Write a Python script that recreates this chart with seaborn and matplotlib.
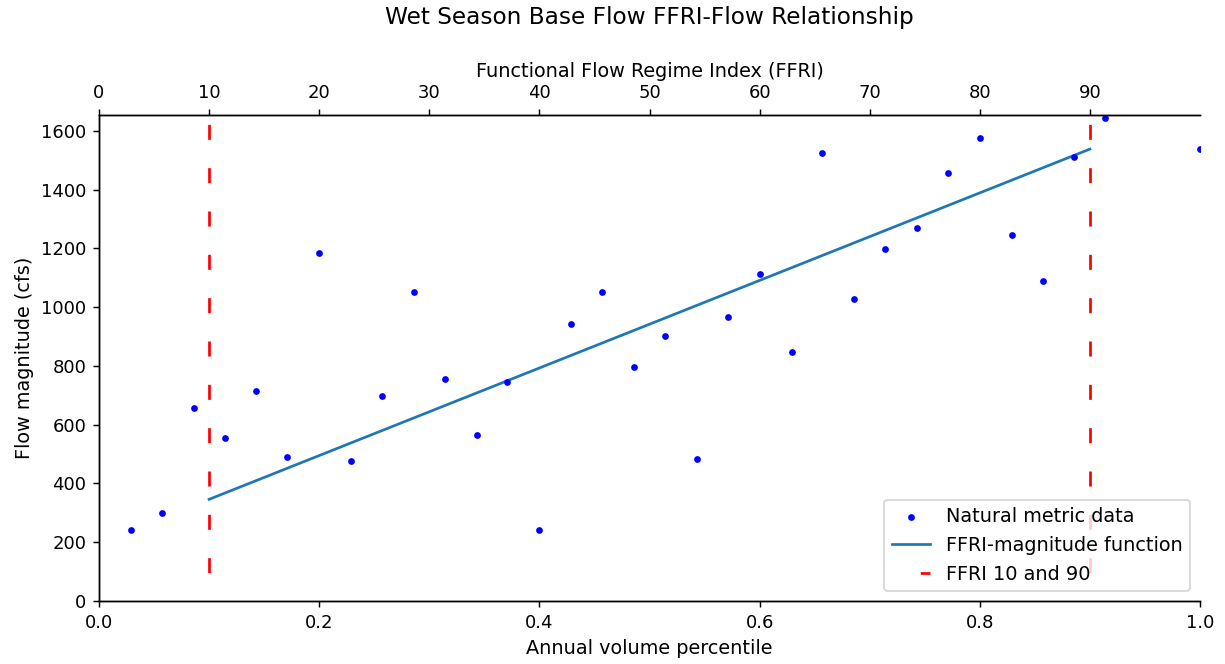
import matplotlib
matplotlib.use("Agg")
import matplotlib.pyplot as plt
import seaborn as sns
import pandas as pd

# Annual volume percentile of each water year and its wet-season base flow (cfs)
percentile = [0.029, 0.057, 0.086, 0.114, 0.143, 0.171, 0.200, 0.229, 0.257,
              0.286, 0.314, 0.343, 0.371, 0.400, 0.429, 0.457, 0.486, 0.514,
              0.543, 0.571, 0.600, 0.629, 0.657, 0.686, 0.714, 0.743, 0.771,
              0.800, 0.829, 0.857, 0.886, 0.914, 1.000]
flow_cfs = [240, 300, 657, 556, 716, 489, 1186, 475, 698,
            1052, 755, 565, 745, 243, 943, 1052, 797, 901,
            484, 967, 1114, 849, 1525, 1028, 1199, 1271, 1455,
            1577, 1246, 1089, 1511, 1644, 1539]

# FFRI-magnitude function between FFRI 10 and 90
func_x = [0.1, 0.9]
func_y = [346, 1538]

# FFRI 10 and 90 markers
ffri_bounds = [0.1, 0.9]
bound_ymin, bound_ymax = 0, 1650

ffri_ticks = [0, 10, 20, 30, 40, 50, 60, 70, 80, 90]

pts = pd.DataFrame({"pct": percentile, "flow": flow_cfs})
fn = pd.DataFrame({"pct": func_x, "flow": func_y})

label_size = 10.7

fig = plt.figure(figsize=(1225 / 130, 664 / 130), dpi=130)
ax = fig.add_axes([99 / 1225, 1 - 601 / 664, 1101 / 1225, 486 / 664])

sns.scatterplot(data=pts, x="pct", y="flow", ax=ax, color="blue", s=14,
                linewidth=0, label="Natural metric data", zorder=3)
sns.lineplot(data=fn, x="pct", y="flow", ax=ax, color="#1f77b4", lw=1.5,
             label="FFRI-magnitude function")
ax.vlines(ffri_bounds, bound_ymin, bound_ymax, colors="red", lw=1.5,
          linestyles=(5.55, (5.55, 10.45)), label="FFRI 10 and 90")

ax.set_xlim(0, 1)
ax.set_ylim(0, 1654)
ax.set_yticks(range(0, 1601, 200))
ax.set_xlabel("Annual volume percentile", fontsize=label_size)
ax.set_ylabel("Flow magnitude (cfs)", fontsize=label_size)
ax.spines["right"].set_visible(False)
ax.legend(loc="lower right", fontsize=label_size)

ax2 = ax.twiny()
ax2.set_xlim(0, 100)
ax2.set_xticks(ffri_ticks)
ax2.set_xlabel("Functional Flow Regime Index (FFRI)", fontsize=label_size)
ax2.spines["right"].set_visible(False)
ax2.set_title("Wet Season Base Flow FFRI-Flow Relationship", fontsize=12.85, pad=21)

fig.savefig("out.png", dpi=130)
